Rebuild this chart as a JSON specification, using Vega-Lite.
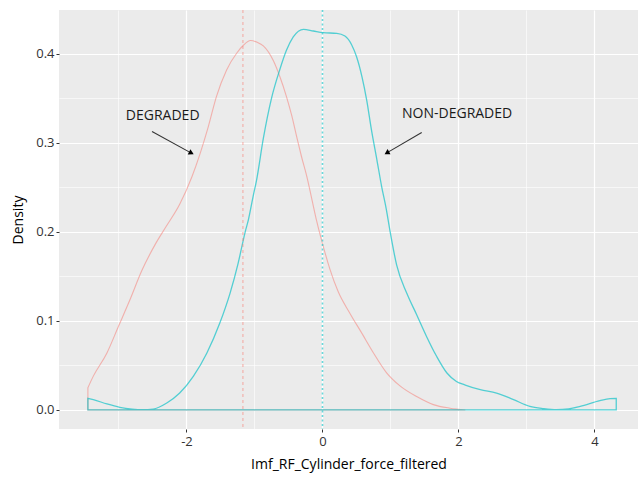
{
  "$schema": "https://vega.github.io/schema/vega-lite/v6.json",
  "width": 579,
  "height": 419,
  "autosize": {"type": "none"},
  "padding": {"left": 59, "top": 10, "right": 0, "bottom": 52},
  "background": "white",
  "config": {"view": {"fill": "#EBEBEB", "stroke": null}, "font": "Open Sans"},
  "datasets": {
    "dens": [
      {"group": "DEGRADED", "x": -3.45, "density": 0.025},
      {"group": "DEGRADED", "x": -3.37, "density": 0.038},
      {"group": "DEGRADED", "x": -3.17, "density": 0.064},
      {"group": "DEGRADED", "x": -3.0, "density": 0.094},
      {"group": "DEGRADED", "x": -2.83, "density": 0.124},
      {"group": "DEGRADED", "x": -2.66, "density": 0.156},
      {"group": "DEGRADED", "x": -2.46, "density": 0.186},
      {"group": "DEGRADED", "x": -2.3, "density": 0.206},
      {"group": "DEGRADED", "x": -2.1, "density": 0.231},
      {"group": "DEGRADED", "x": -1.92, "density": 0.262},
      {"group": "DEGRADED", "x": -1.8, "density": 0.288},
      {"group": "DEGRADED", "x": -1.68, "density": 0.318},
      {"group": "DEGRADED", "x": -1.56, "density": 0.352},
      {"group": "DEGRADED", "x": -1.41, "density": 0.382},
      {"group": "DEGRADED", "x": -1.26, "density": 0.401},
      {"group": "DEGRADED", "x": -1.16, "density": 0.410},
      {"group": "DEGRADED", "x": -1.06, "density": 0.415},
      {"group": "DEGRADED", "x": -0.96, "density": 0.413},
      {"group": "DEGRADED", "x": -0.87, "density": 0.409},
      {"group": "DEGRADED", "x": -0.72, "density": 0.392},
      {"group": "DEGRADED", "x": -0.625, "density": 0.374},
      {"group": "DEGRADED", "x": -0.53, "density": 0.352},
      {"group": "DEGRADED", "x": -0.45, "density": 0.330},
      {"group": "DEGRADED", "x": -0.38, "density": 0.307},
      {"group": "DEGRADED", "x": -0.31, "density": 0.285},
      {"group": "DEGRADED", "x": -0.23, "density": 0.262},
      {"group": "DEGRADED", "x": -0.16, "density": 0.238},
      {"group": "DEGRADED", "x": -0.085, "density": 0.212},
      {"group": "DEGRADED", "x": 0.01, "density": 0.184},
      {"group": "DEGRADED", "x": 0.11, "density": 0.158},
      {"group": "DEGRADED", "x": 0.23, "density": 0.133},
      {"group": "DEGRADED", "x": 0.4, "density": 0.109},
      {"group": "DEGRADED", "x": 0.58, "density": 0.086},
      {"group": "DEGRADED", "x": 0.75, "density": 0.064},
      {"group": "DEGRADED", "x": 0.94, "density": 0.042},
      {"group": "DEGRADED", "x": 1.14, "density": 0.027},
      {"group": "DEGRADED", "x": 1.385, "density": 0.015},
      {"group": "DEGRADED", "x": 1.63, "density": 0.006},
      {"group": "DEGRADED", "x": 1.875, "density": 0.002},
      {"group": "DEGRADED", "x": 2.1, "density": 0.0},
      {"group": "NON-DEGRADED", "x": -3.45, "density": 0.013},
      {"group": "NON-DEGRADED", "x": -3.37, "density": 0.0116},
      {"group": "NON-DEGRADED", "x": -3.17, "density": 0.0067},
      {"group": "NON-DEGRADED", "x": -2.98, "density": 0.003},
      {"group": "NON-DEGRADED", "x": -2.8, "density": 0.001},
      {"group": "NON-DEGRADED", "x": -2.65, "density": 0.0003},
      {"group": "NON-DEGRADED", "x": -2.49, "density": 0.001},
      {"group": "NON-DEGRADED", "x": -2.29, "density": 0.0078},
      {"group": "NON-DEGRADED", "x": -2.1, "density": 0.019},
      {"group": "NON-DEGRADED", "x": -1.9, "density": 0.0377},
      {"group": "NON-DEGRADED", "x": -1.7, "density": 0.064},
      {"group": "NON-DEGRADED", "x": -1.51, "density": 0.0976},
      {"group": "NON-DEGRADED", "x": -1.36, "density": 0.131},
      {"group": "NON-DEGRADED", "x": -1.24, "density": 0.165},
      {"group": "NON-DEGRADED", "x": -1.14, "density": 0.199},
      {"group": "NON-DEGRADED", "x": -1.09, "density": 0.2136},
      {"group": "NON-DEGRADED", "x": -1.02, "density": 0.240},
      {"group": "NON-DEGRADED", "x": -0.97, "density": 0.258},
      {"group": "NON-DEGRADED", "x": -0.87, "density": 0.305},
      {"group": "NON-DEGRADED", "x": -0.75, "density": 0.350},
      {"group": "NON-DEGRADED", "x": -0.625, "density": 0.383},
      {"group": "NON-DEGRADED", "x": -0.53, "density": 0.404},
      {"group": "NON-DEGRADED", "x": -0.43, "density": 0.419},
      {"group": "NON-DEGRADED", "x": -0.28, "density": 0.4276},
      {"group": "NON-DEGRADED", "x": -0.135, "density": 0.4257},
      {"group": "NON-DEGRADED", "x": 0.01, "density": 0.4238},
      {"group": "NON-DEGRADED", "x": 0.21, "density": 0.4231},
      {"group": "NON-DEGRADED", "x": 0.33, "density": 0.420},
      {"group": "NON-DEGRADED", "x": 0.43, "density": 0.410},
      {"group": "NON-DEGRADED", "x": 0.5, "density": 0.397},
      {"group": "NON-DEGRADED", "x": 0.58, "density": 0.3744},
      {"group": "NON-DEGRADED", "x": 0.65, "density": 0.348},
      {"group": "NON-DEGRADED", "x": 0.72, "density": 0.3146},
      {"group": "NON-DEGRADED", "x": 0.8, "density": 0.281},
      {"group": "NON-DEGRADED", "x": 0.87, "density": 0.251},
      {"group": "NON-DEGRADED", "x": 0.94, "density": 0.2248},
      {"group": "NON-DEGRADED", "x": 0.99, "density": 0.2024},
      {"group": "NON-DEGRADED", "x": 1.09, "density": 0.163},
      {"group": "NON-DEGRADED", "x": 1.24, "density": 0.131},
      {"group": "NON-DEGRADED", "x": 1.385, "density": 0.107},
      {"group": "NON-DEGRADED", "x": 1.53, "density": 0.0826},
      {"group": "NON-DEGRADED", "x": 1.68, "density": 0.060},
      {"group": "NON-DEGRADED", "x": 1.83, "density": 0.0415},
      {"group": "NON-DEGRADED", "x": 1.97, "density": 0.032},
      {"group": "NON-DEGRADED", "x": 2.1, "density": 0.028},
      {"group": "NON-DEGRADED", "x": 2.32, "density": 0.0228},
      {"group": "NON-DEGRADED", "x": 2.56, "density": 0.019},
      {"group": "NON-DEGRADED", "x": 2.81, "density": 0.0116},
      {"group": "NON-DEGRADED", "x": 3.05, "density": 0.004},
      {"group": "NON-DEGRADED", "x": 3.25, "density": 0.0015},
      {"group": "NON-DEGRADED", "x": 3.44, "density": 0.0003},
      {"group": "NON-DEGRADED", "x": 3.62, "density": 0.0012},
      {"group": "NON-DEGRADED", "x": 3.79, "density": 0.004},
      {"group": "NON-DEGRADED", "x": 4.08, "density": 0.0104},
      {"group": "NON-DEGRADED", "x": 4.23, "density": 0.0127},
      {"group": "NON-DEGRADED", "x": 4.32, "density": 0.013}
    ],
    "means": [
      {"group": "DEGRADED", "mean": -1.17},
      {"group": "NON-DEGRADED", "mean": 0.0}
    ],
    "notes": [
      {"label": "DEGRADED", "tx": -2.35, "ty": 0.330, "x1": -2.507, "y1": 0.3127, "x2": -1.928, "y2": 0.2885},
      {"label": "NON-DEGRADED", "tx": 1.98, "ty": 0.3325, "x1": 1.459, "y1": 0.3116, "x2": 0.946, "y2": 0.2888}
    ]
  },
  "layer": [
    {
      "data": {"name": "dens"},
      "transform": [{"filter": "datum.group === 'DEGRADED'"}],
      "mark": {"type": "area", "fillOpacity": 0, "strokeOpacity": 0.5, "strokeWidth": 1.1, "interpolate": "monotone", "clip": true},
      "encoding": {
        "x": {
          "field": "x", "type": "quantitative",
          "scale": {"domain": [-3.875, 4.64], "nice": false, "zero": false},
          "axis": {
            "title": "Imf_RF_Cylinder_force_filtered",
            "values": [-3, -2, -1, 0, 1, 2, 3, 4],
            "format": "d",
            "labelExpr": "datum.value % 2 === 0 ? replace(datum.label, '\u2212', '-') : ''",
            "domain": false,
            "grid": true,
            "gridColor": "white",
            "gridWidth": {"condition": {"test": "datum.value % 2 !== 0", "value": 0.6}, "value": 1.2},
            "tickOpacity": {"condition": {"test": "datum.value % 2 !== 0", "value": 0}, "value": 1},
            "tickColor": "#333333",
            "tickSize": 3,
            "labelPadding": 3,
            "labelFontSize": 13,
            "labelColor": "#333333",
            "titleFontSize": 14,
            "titleFontWeight": "normal",
            "titleColor": "black",
            "titlePadding": 9
          }
        },
        "y": {
          "field": "density", "type": "quantitative", "stack": null,
          "scale": {"domain": [-0.0214, 0.4493], "nice": false, "zero": false},
          "axis": {
            "title": "Density",
            "values": [0, 0.05, 0.1, 0.15, 0.2, 0.25, 0.3, 0.35, 0.4],
            "format": ".1f",
            "labelExpr": "round(datum.value * 100) % 10 === 0 ? datum.label : ''",
            "domain": false,
            "grid": true,
            "gridColor": "white",
            "gridWidth": {"condition": {"test": "round(datum.value * 100) % 10 !== 0", "value": 0.6}, "value": 1.2},
            "tickOpacity": {"condition": {"test": "round(datum.value * 100) % 10 !== 0", "value": 0}, "value": 1},
            "tickColor": "#333333",
            "tickSize": 3,
            "labelPadding": 2,
            "labelFontSize": 13,
            "labelColor": "#333333",
            "titleFontSize": 14,
            "titleFontWeight": "normal",
            "titleColor": "black",
            "titlePadding": 10
          }
        },
        "y2": {"datum": 0},
        "stroke": {
          "field": "group", "type": "nominal",
          "scale": {"domain": ["DEGRADED", "NON-DEGRADED"], "range": ["#F8766D", "#00BFC4"]},
          "legend": null
        }
      }
    },
    {
      "data": {"name": "dens"},
      "transform": [{"filter": "datum.group === 'NON-DEGRADED'"}],
      "mark": {"type": "area", "fillOpacity": 0, "strokeOpacity": 0.65, "strokeWidth": 1.3, "interpolate": "monotone", "clip": true},
      "encoding": {
        "x": {"field": "x", "type": "quantitative"},
        "y": {"field": "density", "type": "quantitative", "stack": null},
        "y2": {"datum": 0},
        "stroke": {"field": "group", "type": "nominal", "legend": null}
      }
    },
    {
      "data": {"name": "means"},
      "transform": [{"filter": "datum.group === 'DEGRADED'"}],
      "mark": {"type": "rule", "color": "#F8766D", "opacity": 0.6, "strokeWidth": 1, "strokeDash": [3, 3]},
      "encoding": {"x": {"field": "mean", "type": "quantitative"}}
    },
    {
      "data": {"name": "means"},
      "transform": [{"filter": "datum.group === 'NON-DEGRADED'"}],
      "mark": {"type": "rule", "color": "#00BFC4", "opacity": 0.6, "strokeWidth": 1.6, "strokeDash": [2, 2.5]},
      "encoding": {"x": {"field": "mean", "type": "quantitative"}}
    },
    {
      "data": {"name": "notes"},
      "mark": {"type": "text", "fontSize": 14, "color": "#1a1a1a", "align": "center", "baseline": "middle"},
      "encoding": {
        "x": {"field": "tx", "type": "quantitative"},
        "y": {"field": "ty", "type": "quantitative"},
        "text": {"field": "label"}
      }
    },
    {
      "data": {"name": "notes"},
      "mark": {"type": "rule", "color": "#333333", "strokeWidth": 1.1},
      "encoding": {
        "x": {"field": "x1", "type": "quantitative"},
        "y": {"field": "y1", "type": "quantitative"},
        "x2": {"field": "x2"},
        "y2": {"field": "y2"}
      }
    },
    {
      "data": {"name": "notes"},
      "transform": [{"filter": "datum.label === 'DEGRADED'"}],
      "mark": {"type": "point", "shape": "triangle-up", "filled": true, "color": "black", "opacity": 1, "size": 35, "angle": 117},
      "encoding": {
        "x": {"field": "x2", "type": "quantitative"},
        "y": {"field": "y2", "type": "quantitative"}
      }
    },
    {
      "data": {"name": "notes"},
      "transform": [{"filter": "datum.label === 'NON-DEGRADED'"}],
      "mark": {"type": "point", "shape": "triangle-up", "filled": true, "color": "black", "opacity": 1, "size": 35, "angle": 240},
      "encoding": {
        "x": {"field": "x2", "type": "quantitative"},
        "y": {"field": "y2", "type": "quantitative"}
      }
    }
  ]
}
